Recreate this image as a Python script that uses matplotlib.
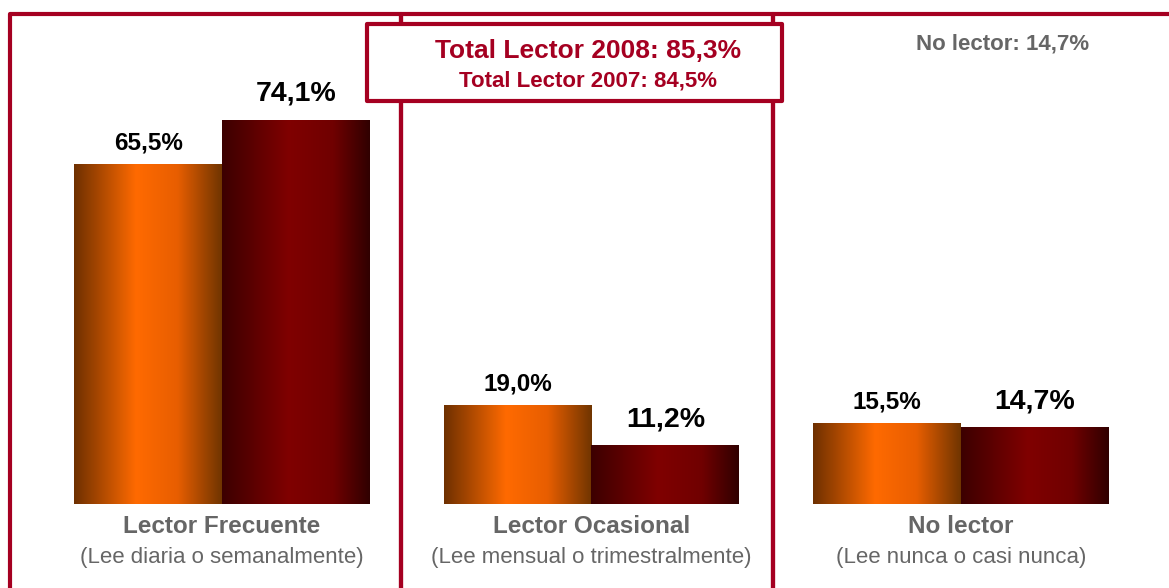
import numpy as np
import matplotlib.pyplot as plt
from matplotlib.patches import Rectangle
from matplotlib.colors import LinearSegmentedColormap

plt.rcParams['font.family'] = ['Liberation Sans', 'DejaVu Sans']

categories = ['Lector Frecuente', 'Lector Ocasional', 'No lector']
subtitles = ['(Lee diaria o semanalmente)', '(Lee mensual o trimestralmente)',
             '(Lee nunca o casi nunca)']
vals_2007 = [65.5, 19.0, 15.5]
vals_2008 = [74.1, 11.2, 14.7]
labels_2007 = ['65,5%', '19,0%', '15,5%']
labels_2008 = ['74,1%', '11,2%', '14,7%']
total_2008 = 'Total Lector 2008: 85,3%'
total_2007 = 'Total Lector 2007: 84,5%'
no_lector = 'No lector: 14,7%'

crimson = '#A50021'
grey = '#666666'

orange_cmap = LinearSegmentedColormap.from_list(
    'orange', [(0, '#6E3000'), (0.42, '#FF6A00'), (0.7, '#E85E00'), (1, '#703500')])
red_cmap = LinearSegmentedColormap.from_list(
    'red', [(0, '#3C0000'), (0.45, '#800000'), (0.75, '#700000'), (1, '#300000')])

W, H = 1169, 588
fig = plt.figure(figsize=(W / 100, H / 100), dpi=100)
ax = fig.add_axes([0, 0, 1, 1])
px_x = 369.5
px_y = 5.18
ax.axis('off')

# panel borders (figure pixels -> fractions)
def fx(p):
    return p / W

def fy(p):
    return 1 - p / H

for x0, x1 in [(10, 401), (401, 773), (773, 1185)]:
    fig.patches.append(Rectangle((fx(x0), fy(600)), fx(x1 - x0), fy(14) - fy(600),
                                 transform=fig.transFigure, fill=False,
                                 edgecolor=crimson, lw=3, joinstyle='round', zorder=0))

x = np.arange(len(categories))
bw = 0.40
grad = np.linspace(0, 1, 256).reshape(1, -1)
b1 = ax.bar(x - bw / 2, vals_2007, bw, color='none')
b2 = ax.bar(x + bw / 2, vals_2008, bw, color='none')
for bars, cmap in [(b1, orange_cmap), (b2, red_cmap)]:
    for r in bars:
        ax.imshow(grad, cmap=cmap, aspect='auto', interpolation='bilinear',
                  extent=[r.get_x(), r.get_x() + r.get_width(), 0, r.get_height()],
                  zorder=2)

for i in range(len(categories)):
    ax.annotate(labels_2007[i], (x[i] - bw / 2, vals_2007[i]), xytext=(0, 7),
                textcoords='offset points', ha='center', va='bottom',
                fontsize=17.5, fontweight='bold', color='black')
    ax.annotate(labels_2008[i], (x[i] + bw / 2, vals_2008[i]), xytext=(0, 9.5),
                textcoords='offset points', ha='center', va='bottom',
                fontsize=20.5, fontweight='bold', color='black')
    ax.annotate(categories[i], (x[i], 0), xytext=(0, -16.5), textcoords='offset points',
                ha='center', va='center', fontsize=17.5, fontweight='bold', color=grey)
    ax.annotate(subtitles[i], (x[i], 0), xytext=(0, -38.5), textcoords='offset points',
                ha='center', va='center', fontsize=16, color=grey)

ax.set_xlim(-222 / px_x, (W - 222) / px_x)
ax.set_ylim(-84 / px_y, (H - 84) / px_y)

# total box
fig.patches.append(Rectangle((fx(367), fy(101)), fx(782 - 367), fy(24) - fy(101),
                             transform=fig.transFigure, facecolor='white',
                             edgecolor=crimson, lw=3, joinstyle='round', zorder=5))
fig.text(fx(588), fy(51.5), total_2008, ha='center', va='center', fontsize=19,
         fontweight='bold', color=crimson, zorder=6)
fig.text(fx(588), fy(80.5), total_2007, ha='center', va='center', fontsize=16,
         fontweight='bold', color=crimson, zorder=6)
fig.text(fx(1003), fy(44), no_lector, ha='center', va='center', fontsize=16,
         fontweight='bold', color=grey)

fig.savefig('out.png', dpi=100, facecolor='white')
